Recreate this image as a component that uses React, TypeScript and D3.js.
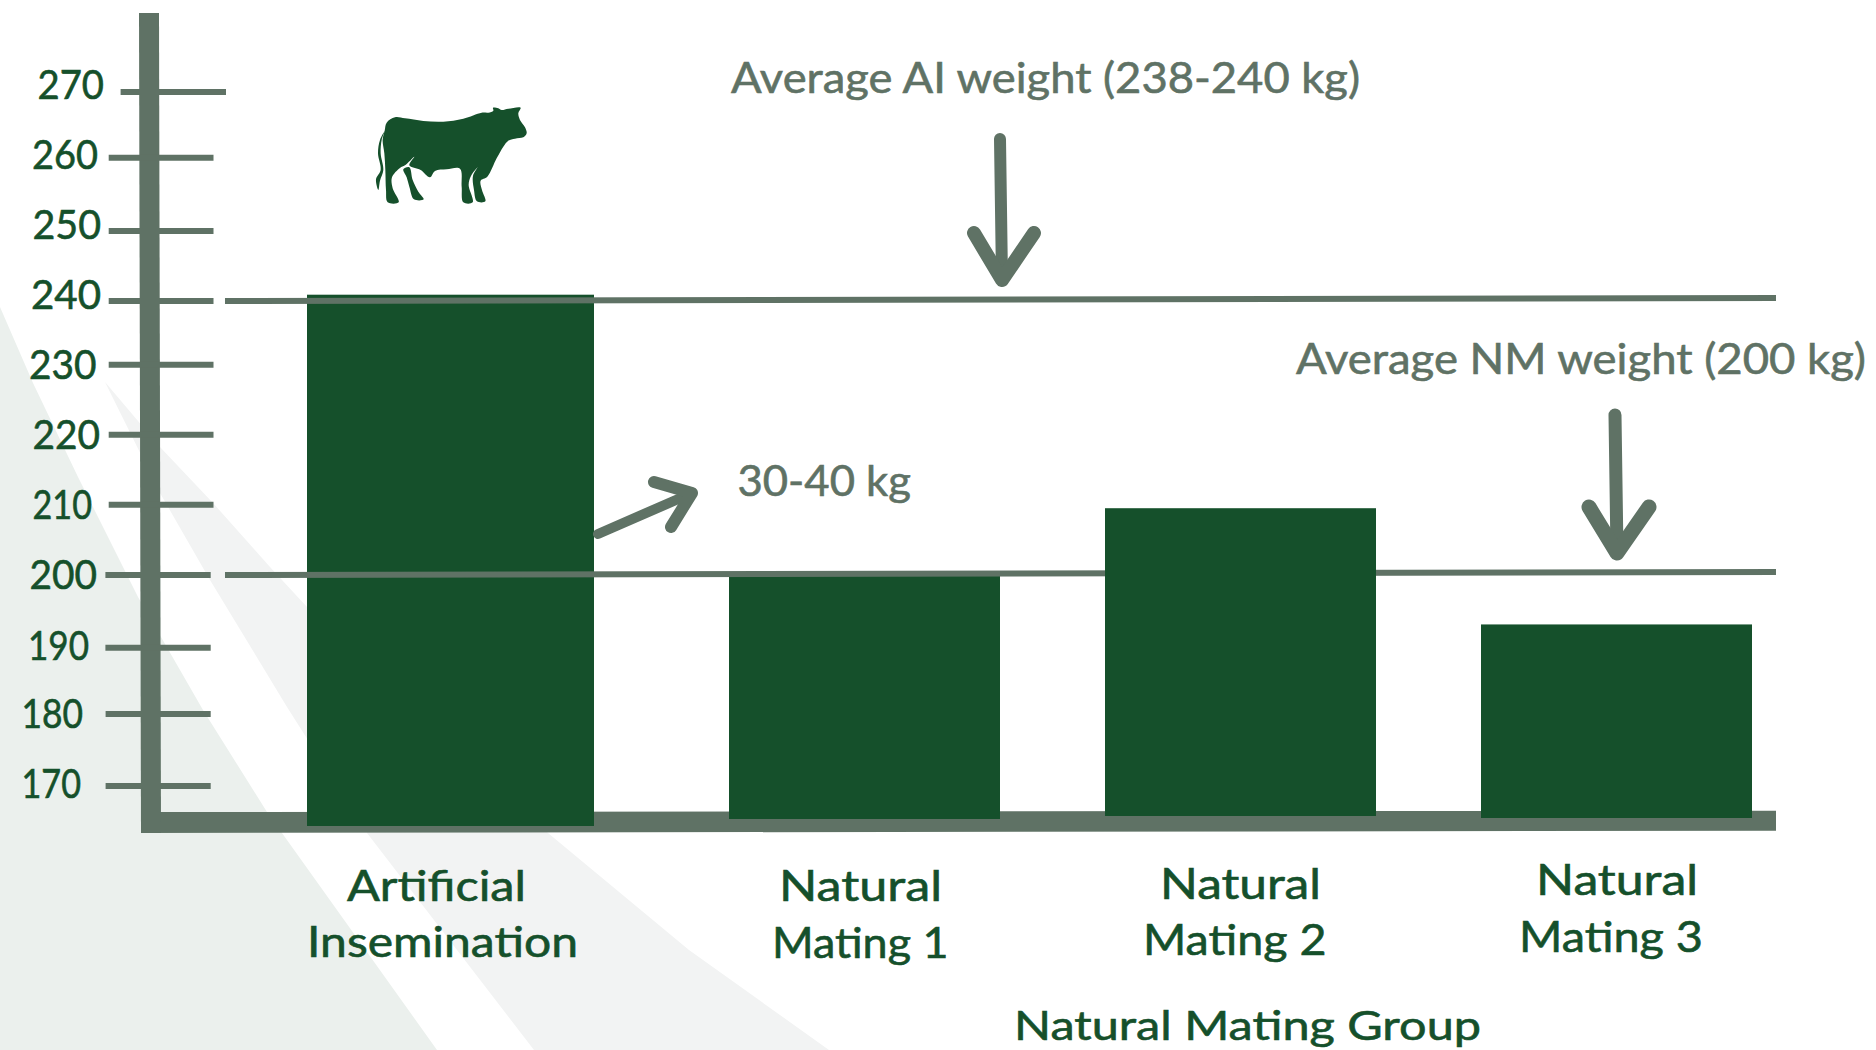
import React from "react";
import * as d3 from "d3";

// ---- data ----
const categories = ["Artificial Insemination", "Natural Mating 1", "Natural Mating 2", "Natural Mating 3"];
const meanWeights = [240.9, 200, 209.5, 193.2];
const tickValues = [270, 260, 250, 240, 230, 220, 210, 200, 190, 180, 170];
const referenceWeights = [240, 200];

// ---- layout (the source is a hand-placed infographic, so the scales are piecewise) ----
const W = 1876;
const H = 1050;
const DARK = "#15502b";
const GREY = "#5f7265";
const tickPixels = [92, 157.7, 231, 301, 364.7, 434.7, 504.7, 575, 647.7, 714, 786];
const tickLeft = [120.6, 108.7, 108.7, 108.7, 108.7, 108.7, 108.7, 105.4, 105.4, 105.6, 105.6];
const tickRight = [226, 213.5, 213.5, 213.5, 213.5, 213.5, 213.5, 210.7, 210.7, 210.7, 210.7];
const tickLabelBox = [
  [37.5, 104, 99], [32, 98, 169], [32.5, 101, 239], [31, 101, 309], [29, 96.5, 379],
  [32.5, 100, 449], [32.5, 92, 519], [29.5, 97, 589], [28, 89, 659.5], [21.5, 83, 728], [21.5, 81, 798],
];
const barLeft = [307, 729, 1105, 1481];
const barRight = [594, 1000, 1376, 1752];
const barBottom = [826, 819, 816, 818];
const categoryLines = [
  [{ t: "Artificial", a: 347, b: 526, y: 901 }, { t: "Insemination", a: 307, b: 578, y: 957 }],
  [{ t: "Natural", a: 779, b: 942, y: 901 }, { t: "Mating 1", a: 772, b: 948.5, y: 958 }],
  [{ t: "Natural", a: 1160, b: 1321, y: 899 }, { t: "Mating 2", a: 1143, b: 1326.5, y: 955 }],
  [{ t: "Natural", a: 1536, b: 1698, y: 895 }, { t: "Mating 3", a: 1519, b: 1703, y: 952 }],
];
const annotations = [
  { t: "Average AI weight (238-240 kg)", a: 731, b: 1360, y: 92.5 },
  { t: "30-40 kg", a: 737.5, b: 911, y: 496 },
  { t: "Average NM weight (200 kg)", a: 1296, b: 1866, y: 373.5 },
];
const arrows = [
  { shaft: [[1000, 139], [1002, 279]], head: [[974, 233], [1002, 280], [1034, 233]], w: 12 },
  { shaft: [[1615, 415], [1617, 553]], head: [[1589, 507], [1617, 553], [1649, 507]], w: 13 },
  { shaft: [[598, 534], [692, 493]], head: [[654, 482], [692, 493], [671, 527]], w: 10 },
];

const paleGreen: [number, number][] = [[0, 307], [33, 383], [78, 477], [138, 597], [203, 710], [267, 812], [437, 1050], [0, 1050]];
const paleGrey: [number, number][] = [[105, 382], [160, 447], [213, 503], [270, 567], [307, 607], [548, 833], [689, 950], [829, 1050], [534, 1050], [367, 833], [287, 707], [210, 580], [160, 493]];

const cowBody: [number, number][] = [
  [104, 122], [110, 98], [135, 82], [165, 85], [220, 93], [280, 95], [340, 86], [395, 68], [415, 68], [430, 62], [429, 53],
  [445, 55], [455, 60], [475, 56], [512, 53], [505, 70], [510, 90], [525, 112], [530, 130], [520, 142], [495, 146], [475, 152],
  [460, 170], [440, 205], [412, 260], [392, 272], [396, 300], [406, 334], [381, 334], [372, 300], [369, 258], [383, 232],
  [363, 258], [356, 285], [368, 337], [340, 337], [335, 290], [330, 236], [290, 238], [255, 243], [240, 262], [212, 240],
  [178, 226], [193, 200], [165, 226], [150, 234], [126, 262], [128, 295], [146, 337], [113, 337], [108, 300], [106, 240], [103, 190], [98, 150],
];
const cowLeg: [number, number][] = [[160, 238], [178, 232], [188, 270], [205, 305], [221, 328], [192, 328], [178, 290], [170, 262]];
const cowTail: [number, number][] = [[104, 124], [90, 150], [84, 190], [92, 240], [78, 268], [85, 300], [90, 272], [100, 240], [92, 190], [95, 150]];

// ---- scales ----
const y = d3.scaleLinear().domain(tickValues).range(tickPixels);
const xLeft = d3.scaleOrdinal<string, number>().domain(categories).range(barLeft);
const xRight = d3.scaleOrdinal<string, number>().domain(categories).range(barRight);
const poly = d3.line();
const smooth = d3.line().curve(d3.curveCatmullRomClosed.alpha(0.5));
const closed = d3.line().curve(d3.curveLinearClosed);

const FONT = "Lato, 'Noto Sans', sans-serif";

function Fit({ t, a, b, y: by, size, fill }: any) {
  return (
    <text x={a} y={by} fontFamily={FONT} fontSize={size} fill={fill} stroke={fill} strokeWidth={0.6} textLength={b - a} lengthAdjust="spacingAndGlyphs">
      {t}
    </text>
  );
}

export default function App() {
  const bar = (i: number) => {
    const c = categories[i];
    const top = y(meanWeights[i]);
    return <rect key={c} x={xLeft(c)} y={top} width={xRight(c) - xLeft(c)} height={barBottom[i] - top} fill={DARK} />;
  };
  return (
    <svg width={W} height={H} viewBox={`0 0 ${W} ${H}`} style={{ position: "absolute", left: 0, top: 0, background: "#fff" }}>
      <path d={closed(paleGreen) ?? ""} fill="#ebf0ed" />
      <path d={closed(paleGrey) ?? ""} fill="#f2f3f3" />

      {/* axes */}
      <polygon points="141,812 1776,810.7 1776,830.7 141,833" fill={GREY} />
      <polygon points="139,13 159,13 161,833 141,833" fill={GREY} />
      {tickValues.map((t, i) => (
        <line key={t} x1={tickLeft[i]} x2={tickRight[i]} y1={y(t)} y2={y(t)} stroke={GREY} strokeWidth={6} />
      ))}
      {tickValues.map((t, i) => (
        <Fit key={t} t={String(t)} a={tickLabelBox[i][0]} b={tickLabelBox[i][1]} y={tickLabelBox[i][2]} size={40} fill={DARK} />
      ))}

      {/* bars under the reference lines */}
      {[0, 1, 3].map(bar)}
      {referenceWeights.map((w) => (
        <line key={w} x1={225} x2={1776} y1={y(w)} y2={y(w) - 3} stroke={GREY} strokeWidth={6} />
      ))}
      {bar(2)}

      {/* cow */}
      <g transform="translate(350,90) scale(0.3333)" fill={DARK}>
        <path d={smooth(cowBody) ?? ""} />
        <path d={smooth(cowLeg) ?? ""} />
        <path d={smooth(cowTail) ?? ""} />
      </g>

      {/* arrows */}
      {arrows.map((ar, i) => (
        <g key={i} fill="none" stroke={GREY} strokeLinecap="round" strokeLinejoin="round">
          <path d={poly(ar.shaft as any) ?? ""} strokeWidth={ar.w} />
          <path d={poly(ar.head as any) ?? ""} strokeWidth={ar.w + 2} />
        </g>
      ))}

      {/* text */}
      {annotations.map((n) => (
        <Fit key={n.t} t={n.t} a={n.a} b={n.b} y={n.y} size={42} fill={GREY} />
      ))}
      {categoryLines.flat().map((n, i) => (
        <Fit key={i} t={n.t} a={n.a} b={n.b} y={n.y} size={42} fill={DARK} />
      ))}
      <Fit t="Natural Mating Group" a={1014} b={1481} y={1040} size={41} fill={DARK} />
    </svg>
  );
}
